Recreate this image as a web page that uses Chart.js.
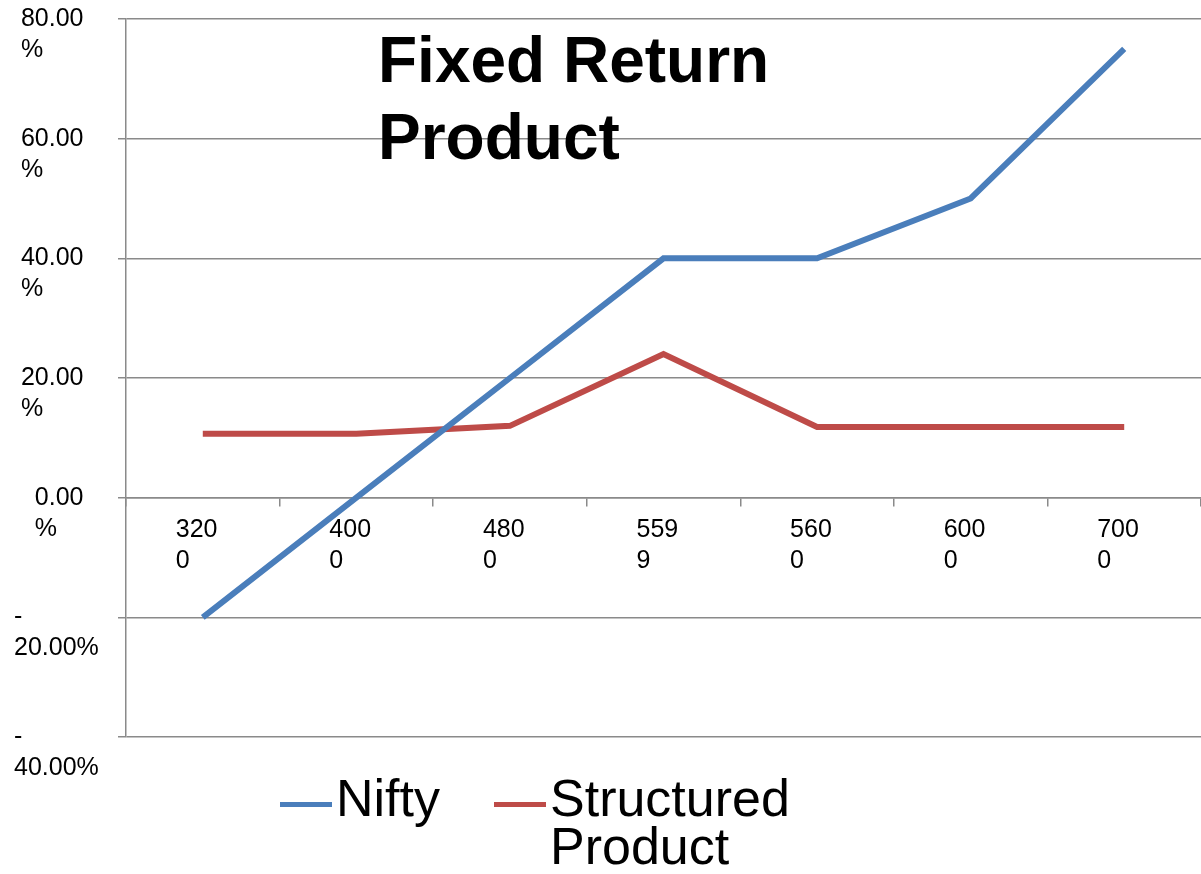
<!DOCTYPE html>
<html>
<head>
<meta charset="utf-8">
<title>Fixed Return Product</title>
<script src="https://cdn.jsdelivr.net/npm/chart.js@4/dist/chart.umd.min.js"></script>
<style>
  body { margin: 0; background: #fff; }
  #wrap { position: relative; width: 1201px; height: 874px; }
  #legend {
    position: absolute; left: 280px; top: 774px;
    display: flex; align-items: flex-start;
    font-family: "Liberation Sans", Arial, sans-serif; font-size: 52px; line-height: 48px; color: #000;
  }
  .item { display: flex; align-items: flex-start; margin-right: 54px; }
  .swatch { width: 52px; height: 5px; margin-top: 28px; margin-right: 4px; }
</style>
</head>
<body>
<div id="wrap">
  <canvas id="returns-chart"></canvas>
  <div id="legend"></div>
</div>
<script>
const categories = ['3200', '4000', '4800', '5599', '5600', '6000', '7000']
const niftyReturns = [-20, 0, 20, 40, 40, 50, 75]
const structuredReturns = [10.7, 10.7, 12, 24, 11.8, 11.8, 11.8]
const titleLines = ['Fixed Return', 'Product']

const gridGrey = '#8a8a8a'
const fontFamily = "'Liberation Sans', Arial, sans-serif"

// excel-ish wrapped percentage labels
function percentLabel(value) {
  if (value < 0) {
    return ['-', Math.abs(value).toFixed(2) + '%']
  }
  if (value === 0) {
    return ['   0.00', '   %']
  }
  return [' ' + value.toFixed(2), ' %']
}

const titleOverlay = {
  id: 'titleOverlay',
  afterDatasetsDraw(chart) {
    const ctx = chart.ctx
    ctx.save()
    ctx.font = 'bold 64px ' + fontFamily
    ctx.fillStyle = '#000'
    ctx.textBaseline = 'alphabetic'
    titleLines.forEach((line, i) => {
      ctx.fillText(line, 378, 82 + i * 77)
    })
    ctx.restore()
  }
}

const chartdata = {
  labels: categories,
  datasets: [{
    label: 'Nifty',
    data: niftyReturns,
    borderColor: '#4A7EBB',
    backgroundColor: '#4A7EBB',
    borderWidth: 6,
    pointRadius: 0,
    fill: false
  },
  {
    label: 'Structured Product',
    data: structuredReturns,
    borderColor: '#BE4B48',
    backgroundColor: '#BE4B48',
    borderWidth: 6,
    pointRadius: 0,
    fill: false
  }]
}

const chartconfig = {
  type: 'line',
  data: chartdata,
  plugins: [titleOverlay],
  options: {
    responsive: true,
    maintainAspectRatio: false,
    animation: false,
    layout: {
      padding: {
        left: 14,
        top: 19,
        right: 0,
        bottom: 137
      }
    },
    scales: {
      x: {
        type: 'category',
        offset: true,
        position: { y: 0 },
        grid: {
          offset: true,
          drawOnChartArea: false,
          drawTicks: true,
          tickLength: 8,
          color: gridGrey,
          lineWidth: 1.5
        },
        border: {
          color: gridGrey,
          width: 1.5
        },
        ticks: {
          color: '#000',
          font: {
            family: fontFamily,
            size: 25,
            lineHeight: 1.25
          },
          align: 'start',
          labelOffset: -27,
          padding: 9,
          autoSkip: false,
          maxRotation: 0,
          callback: function (value) {
            const s = this.getLabelForValue(value)
            return [s.slice(0, 3), s.slice(3)]
          }
        },
        afterFit: (scale) => {
          scale.paddingLeft = 0
          scale.paddingRight = 0
        }
      },
      y: {
        min: -40,
        max: 80,
        grid: {
          color: gridGrey,
          lineWidth: 1.5,
          tickLength: 8
        },
        border: {
          color: gridGrey,
          width: 1.5
        },
        ticks: {
          stepSize: 20,
          color: '#000',
          font: {
            family: fontFamily,
            size: 25,
            lineHeight: 1.25
          },
          crossAlign: 'far',
          labelOffset: 15.6,
          padding: 0,
          callback: (value) => percentLabel(value)
        },
        afterFit: (scale) => {
          scale.width = 112
          scale.paddingTop = 0
          scale.paddingBottom = 0
        }
      }
    },
    plugins: {
      legend: {
        display: false
      },
      tooltip: {
        enabled: false
      }
    }
  }
}

const chartElement = document.getElementById('returns-chart').getContext('2d')
const returnsChart = new Chart(chartElement, chartconfig)

// html legend, wraps the long label like the original
const legendBox = document.getElementById('legend')
chartdata.datasets.forEach(ds => {
  const item = document.createElement('div')
  item.className = 'item'
  const swatch = document.createElement('div')
  swatch.className = 'swatch'
  swatch.style.background = ds.borderColor
  const text = document.createElement('div')
  text.textContent = ds.label
  if (ds.label.length > 10) text.style.width = '260px'
  item.appendChild(swatch)
  item.appendChild(text)
  legendBox.appendChild(item)
})
</script>
</body>
</html>
